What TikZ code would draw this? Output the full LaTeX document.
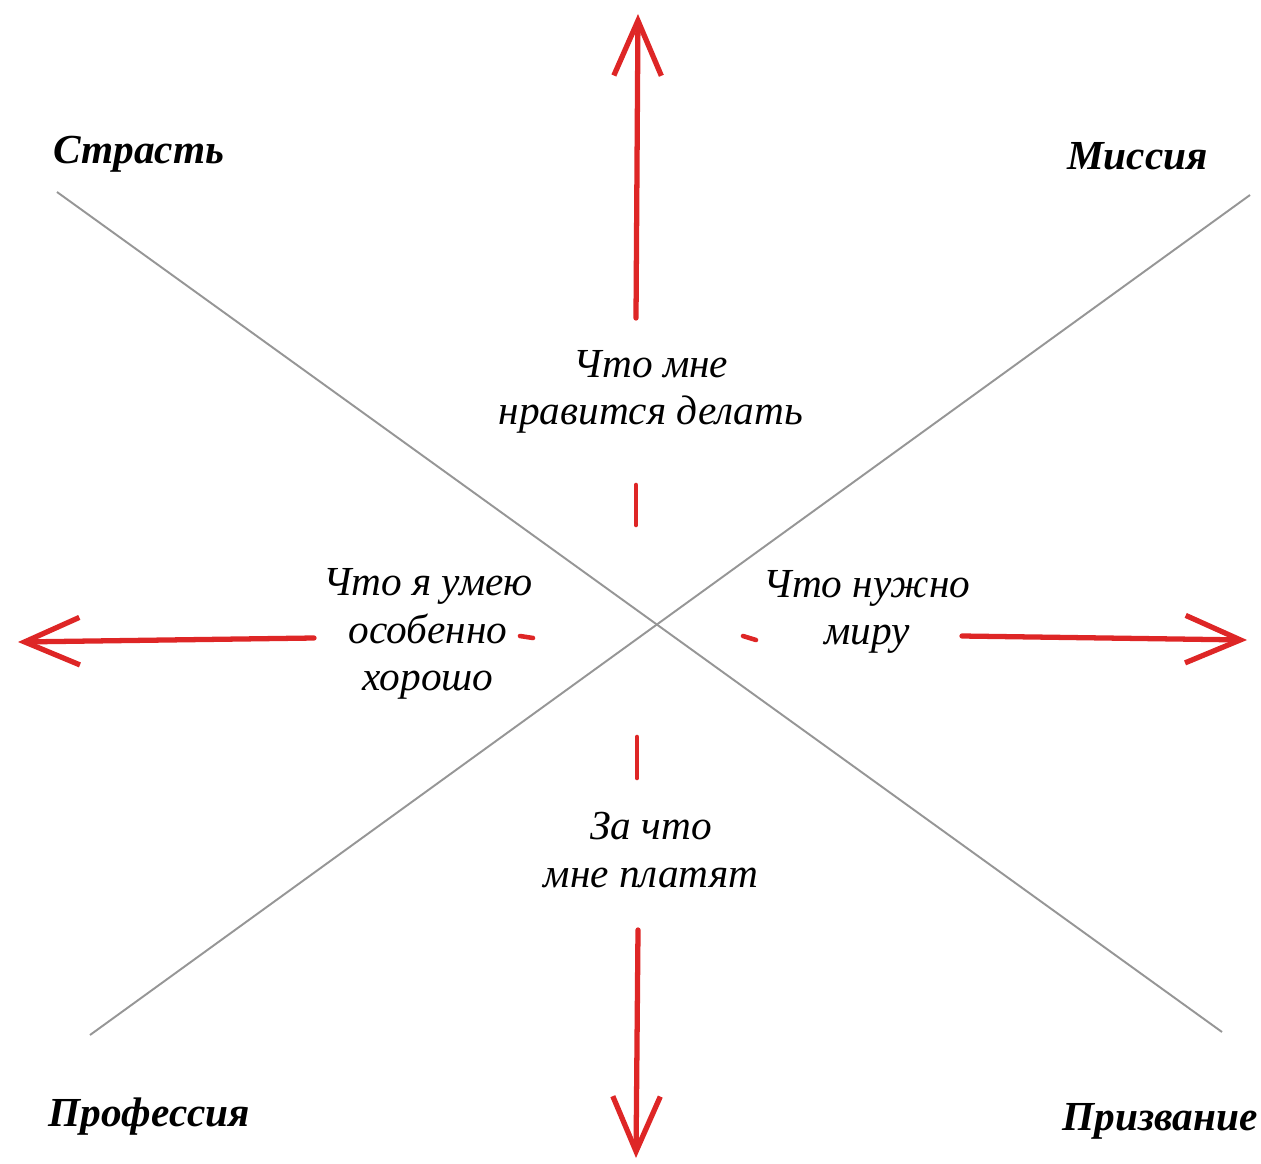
\documentclass[tikz,border=0pt]{standalone}
\usepackage{fontspec}
\setmainfont{Liberation Serif}
\usepackage{tikz}
\usetikzlibrary{arrows.meta}
\definecolor{markred}{RGB}{222,38,38}
\definecolor{crossgray}{RGB}{150,150,150}

\begin{document}
\begin{tikzpicture}[x=0.02cm, y=-0.02cm,
	  corner/.style={font=\fontsize{23.5}{28}\selectfont\bfseries\itshape, inner sep=0pt},
	  question/.style={font=\fontsize{23.5}{27}\selectfont\itshape, align=center, inner sep=0pt},
	  cross/.style={draw=crossgray, line width=1.1pt},
	  redarrow/.style={draw=markred, line width=3pt, line cap=round,
	    -{Straight Barb[length=1.1cm, width=0.95cm, line width=3pt]}},
	  reddash/.style={draw=markred, line width=2.6pt, line cap=round},
	]
	\useasboundingbox (0,0) rectangle (1261,1163);
	
	% Corner labels
	\node[corner, anchor=west] (passion) at (53,154) {Страсть};
	\node[corner, anchor=east] (mission) at (1208,156) {Миссия};
	\node[corner, anchor=west] (profession) at (48,1117) {Профессия};
	\node[corner, anchor=east] (vocation) at (1258,1121) {Призвание};
	
	% Diagonal lines
	\coordinate (nw) at (57,192);
	\coordinate (se) at (1222,1032);
	\coordinate (ne) at (1250,195);
	\coordinate (sw) at (90,1035);
	\draw[cross] (nw) -- (se);
	\draw[cross] (ne) -- (sw);
	
	% Questions
	\node[question] (love) at (651,392) {Что мне\\нравится делать};
	\node[question] (good) at (428,634) {Что я умею\\особенно\\хорошо};
	\node[question] (need) at (867,612) {Что нужно\\миру};
	\node[question] (paid) at (651,850) {За что\\мне платят};
	
	% Arrow ends
	\coordinate (upstart) at (636,318);
	\coordinate (uptip) at (638,14);
	\coordinate (downstart) at (638,930);
	\coordinate (downtip) at (636,1158);
	\coordinate (leftstart) at (314,638);
	\coordinate (lefttip) at (18,642);
	\coordinate (rightstart) at (962,636);
	\coordinate (righttip) at (1247,640);
	
	% Red arrows
	\draw[redarrow] (upstart) -- (uptip);
	\draw[redarrow] (downstart) -- (downtip);
	\draw[redarrow] (leftstart) -- (lefttip);
	\draw[redarrow] (rightstart) -- (righttip);
	
	% Short red strokes near the centre
	\draw[reddash] (636,485) coordinate (d1a) -- (636,525) coordinate (d1b);
	\draw[reddash] (637,737) coordinate (d2a) -- (637,778) coordinate (d2b);
	\draw[reddash] (520,636) coordinate (d3a) -- (533,638) coordinate (d3b);
	\draw[reddash] (756,640) coordinate (d4a) -- (743,636) coordinate (d4b);
	
\end{tikzpicture}
\end{document}
